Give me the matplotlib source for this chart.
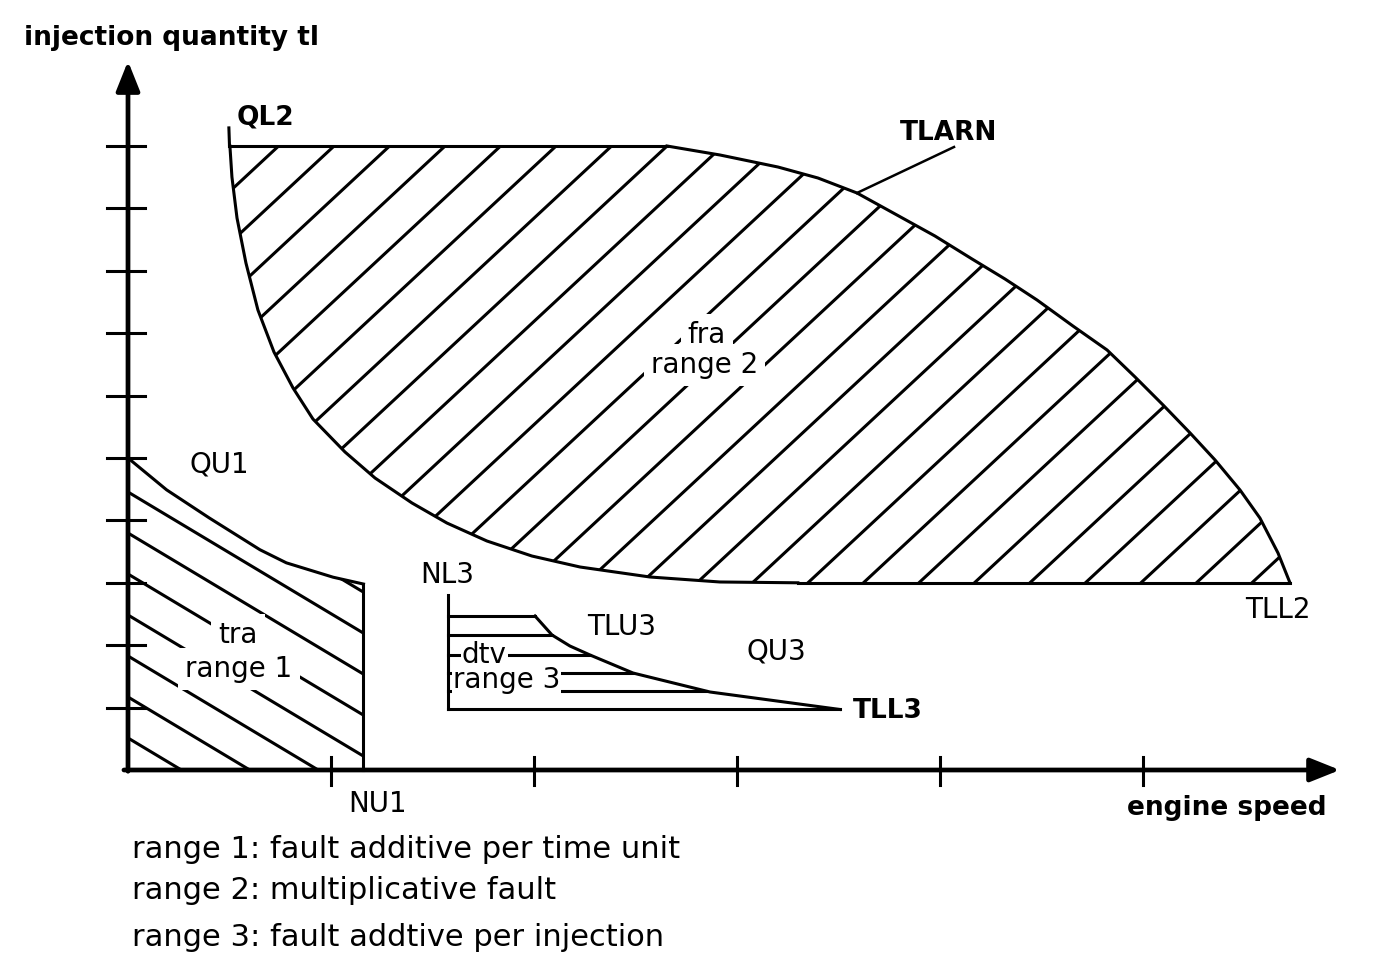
import numpy as np
import matplotlib
matplotlib.use("Agg")
import matplotlib.pyplot as plt
from matplotlib.patches import Polygon

# ---------------- data (axis units: 1 = one tick spacing) ----------------
x_ticks = [1, 2, 3, 4, 5]
y_ticks = [1, 2, 3, 4, 5, 6, 7, 8, 9, 10]
x_axis_end = 5.97
y_axis_end = 11.36

# range 1 (upper limit QU1, speed limit NU1)
qu1_x = [0.0, 0.19, 0.40, 0.65, 0.78, 1.01, 1.16]
qu1_y = [5.0, 4.49, 4.04, 3.53, 3.32, 3.09, 2.98]
nu1 = 1.16

# range 2
ql2 = 10.0
ql2_mark_top = 10.29
ql2_start = 0.50
tlarn_x = [2.655, 2.916, 3.202, 3.399, 3.591, 3.788, 3.975, 4.158, 4.320, 4.478,
           4.655, 4.823, 4.961, 5.099, 5.232, 5.355, 5.478, 5.576, 5.665, 5.724]
tlarn_y = [10.0, 9.856, 9.663, 9.487, 9.247, 8.894, 8.558, 8.189, 7.869, 7.532,
           7.115, 6.731, 6.298, 5.849, 5.401, 4.968, 4.487, 4.038, 3.478, 3.0]
tll2 = 3.0
lower2_x = [0.502, 0.512, 0.537, 0.581, 0.640, 0.719, 0.813, 0.911, 1.069,
            1.217, 1.399, 1.571, 1.768, 1.990, 2.227, 2.571, 2.916, 3.30]
lower2_y = [10.0, 9.503, 8.846, 8.125, 7.372, 6.699, 6.122, 5.625, 5.096,
            4.679, 4.279, 3.958, 3.670, 3.429, 3.253, 3.093, 3.013, 3.0]
tlarn_leader_x = [3.591, 4.069]
tlarn_leader_y = [9.247, 9.984]

# range 3
nl3 = 1.576
nl3_top = 2.80
tlu3_x = [2.005, 2.089, 2.177, 2.276, 2.488, 2.867, 3.507]
tlu3_y = [2.468, 2.163, 1.987, 1.843, 1.554, 1.25, 0.97]
dtv_levels = [2.468, 2.163, 1.843, 1.554, 1.266, 0.97]

legend_lines = ["range 1: fault additive per time unit",
                "range 2: multiplicative fault",
                "range 3: fault addtive per injection"]

# ---------------- figure ----------------
W, H, DPI = 1392, 972, 100
X0, Y0, XU, YU = 128.0, 770.0, 203.0, 62.4   # pixel origin and unit sizes
fig = plt.figure(figsize=(W / DPI, H / DPI), dpi=DPI)
ax = fig.add_axes([0, 0, 1, 1])
ax.set_xlim(-X0 / XU, (W - X0) / XU)
ax.set_ylim((Y0 - H) / YU, Y0 / YU)
ax.axis("off")

LW = 2.2
K = "black"


def hatch(patch, slope, c_anchor, dc, lw=LW):
    xs = np.array([-2.0, 8.0])
    for k in range(-40, 41):
        c = c_anchor + k * dc
        ln, = ax.plot(xs, slope * xs + c, color=K, lw=lw, zorder=1,
                      solid_capstyle="butt")
        ln.set_clip_path(patch)


# range 1 polygon + hatch
r1_x = [0.0, nu1] + qu1_x[::-1]
r1_y = [0.0, 0.0] + qu1_y[::-1]
p1 = Polygon(np.column_stack([r1_x, r1_y]), closed=True, fc="none", ec="none")
ax.add_patch(p1)
hatch(p1, -1.95, 4.455, 0.657)
ax.plot(qu1_x, qu1_y, color=K, lw=LW, zorder=3)
ax.plot([nu1, nu1], [0, qu1_y[-1]], color=K, lw=LW, zorder=3)

# range 2 polygon + hatch
r2_x = [ql2_start] + tlarn_x + lower2_x[::-1]
r2_y = [ql2] + tlarn_y + lower2_y[::-1]
p2 = Polygon(np.column_stack([r2_x, r2_y]), closed=True, fc="none", ec="none")
ax.add_patch(p2)
s2 = 0.93 * XU / YU
hatch(p2, s2, tll2 - s2 * 4.443, s2 * 55.5 / XU)
ax.plot([ql2_start, tlarn_x[0]], [ql2, ql2], color=K, lw=LW, zorder=3)
ax.plot(tlarn_x, tlarn_y, color=K, lw=LW, zorder=3, solid_joinstyle="round")
ax.plot([lower2_x[-1], tlarn_x[-1]], [tll2, tll2], color=K, lw=LW, zorder=3)
ax.plot(lower2_x, lower2_y, color=K, lw=LW, zorder=3, solid_joinstyle="round")
ax.plot([ql2_start - 0.003, ql2_start], [ql2_mark_top, ql2], color=K, lw=LW, zorder=3)
ax.plot(tlarn_leader_x, tlarn_leader_y, color=K, lw=1.8, zorder=3)

# range 3
ax.plot([nl3, nl3], [dtv_levels[-1], nl3_top], color=K, lw=LW, zorder=3)
ax.plot(tlu3_x, tlu3_y, color=K, lw=LW, zorder=3, solid_joinstyle="round")
cx = np.array(tlu3_x)[::-1]
cy = np.array(tlu3_y)[::-1]
for lev in dtv_levels:
    xe = float(np.interp(lev, cy, cx))
    ax.plot([nl3, xe], [lev, lev], color=K, lw=LW, zorder=1)

# axes
arrow = dict(arrowstyle="-|>,head_length=0.5,head_width=0.2", lw=3.4,
             color=K, mutation_scale=36, shrinkA=0, shrinkB=0)
ax.annotate("", xy=(0, y_axis_end), xytext=(0, -0.02), arrowprops=arrow, zorder=4)
ax.annotate("", xy=(x_axis_end, 0), xytext=(-0.02, 0), arrowprops=arrow, zorder=4)
for t in y_ticks:
    ax.plot([-0.103, 0.084], [t, t], color=K, lw=LW, zorder=4)
for t in x_ticks:
    ax.plot([t, t], [0.21, -0.24], color=K, lw=LW, zorder=4)

# texts
FS = 20
FB = 19
white = dict(boxstyle="square,pad=0.25", fc="white", ec="none")
tight = dict(boxstyle="square,pad=0.04", fc="white", ec="none")
ax.text(-0.512, 11.62, "injection quantity tl", fontsize=FB, fontweight="bold",
        ha="left", va="baseline")
ax.text(0.537, 10.337, "QL2", fontsize=FB, fontweight="bold", ha="left", va="baseline")
ax.text(3.80, 10.096, "TLARN", fontsize=FB, fontweight="bold", ha="left", va="baseline")
ax.text(2.852, 6.84, "fra", fontsize=FS, ha="center", va="baseline", bbox=white, zorder=2)
ax.text(2.842, 6.362, "range 2", fontsize=FS, ha="center", va="baseline", bbox=white, zorder=2)
ax.text(0.305, 4.76, "QU1", fontsize=FS, ha="left", va="baseline")
ax.text(0.542, 2.035, "tra", fontsize=FS, ha="center", va="baseline", bbox=white, zorder=2)
ax.text(0.547, 1.49, "range 1", fontsize=FS, ha="center", va="baseline", bbox=white, zorder=2)
ax.text(1.438, 2.997, "NL3", fontsize=FS, ha="left", va="baseline")
ax.text(2.261, 2.163, "TLU3", fontsize=FS, ha="left", va="baseline")
ax.text(3.049, 1.763, "QU3", fontsize=FS, ha="left", va="baseline")
ax.text(1.645, 1.72, "dtv", fontsize=FS, ha="left", va="baseline", bbox=tight, zorder=2)
ax.text(1.60, 1.31, "range 3", fontsize=FS, ha="left", va="baseline", bbox=tight, zorder=2)
ax.text(3.571, 0.833, "TLL3", fontsize=FB, fontweight="bold", ha="left", va="baseline")
ax.text(5.502, 2.436, "TLL2", fontsize=FS, ha="left", va="baseline")
ax.text(1.084, -0.673, "NU1", fontsize=FS, ha="left", va="baseline")
ax.text(4.921, -0.721, "engine speed", fontsize=FB, fontweight="bold", ha="left", va="baseline")
for yb, s in zip([-1.41, -2.067, -2.82], legend_lines):
    ax.text(0.02, yb, s, fontsize=22, ha="left", va="baseline")

fig.savefig("out.png", dpi=DPI, facecolor="white")
